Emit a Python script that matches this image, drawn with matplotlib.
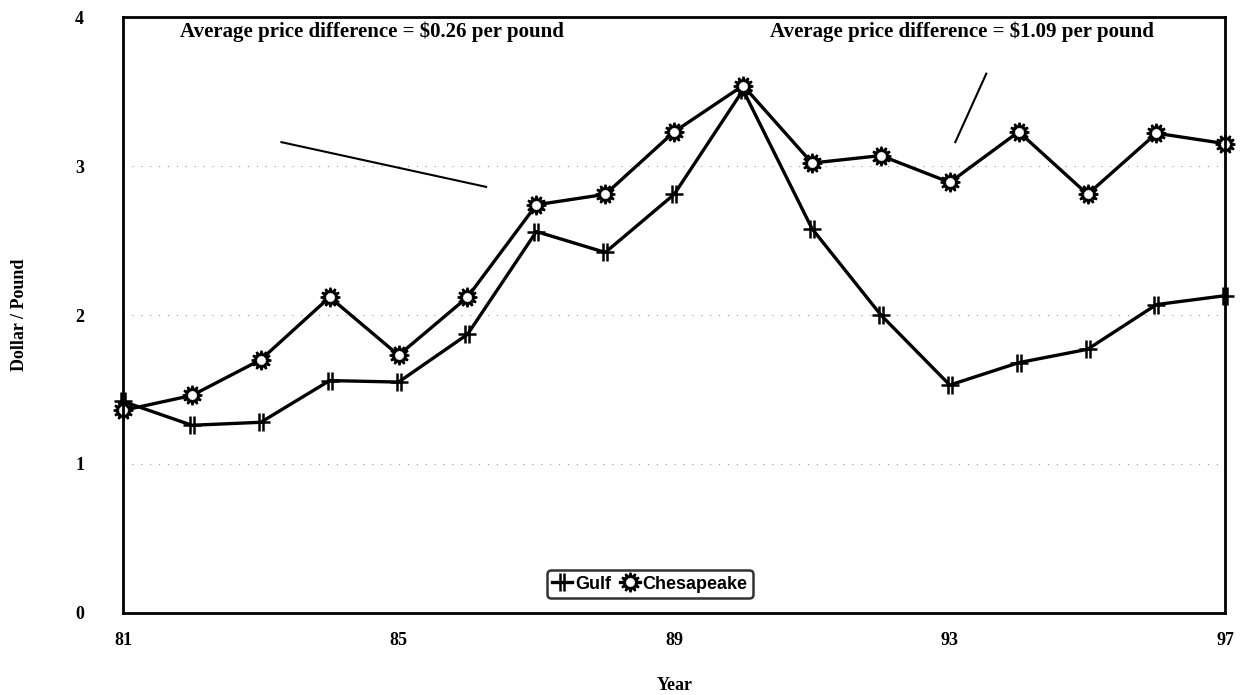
import matplotlib.pyplot as plt
from matplotlib.path import Path
import numpy as np

# data
years = [81, 82, 83, 84, 85, 86, 87, 88, 89, 90, 91, 92, 93, 94, 95, 96, 97]
gulf = [1.42, 1.26, 1.28, 1.56, 1.55, 1.87, 2.56, 2.42, 2.81, 3.51, 2.58, 2.00,
        1.53, 1.68, 1.77, 2.07, 2.13]
chesapeake = [1.36, 1.46, 1.70, 2.12, 1.73, 2.12, 2.74, 2.81, 3.23, 3.54, 3.02,
              3.07, 2.89, 3.23, 2.81, 3.22, 3.15]
xticks = [81, 85, 89, 93, 97]
yticks = [0, 1, 2, 3, 4]
note_left = "Average price difference = $0.26 per pound"
note_right = "Average price difference = $1.09 per pound"

plt.rcParams['font.family'] = 'Liberation Serif'
plt.rcParams['font.weight'] = 'bold'
plt.rcParams['axes.labelweight'] = 'bold'

# hash-like marker for Gulf
hash_marker = Path(
    [(-0.25, -1), (-0.25, 1), (0.25, -1), (0.25, 1), (-1, 0), (1, 0)],
    [Path.MOVETO, Path.LINETO, Path.MOVETO, Path.LINETO, Path.MOVETO, Path.LINETO])

fig = plt.figure(figsize=(12.4, 6.95), dpi=100)
ax = fig.add_axes([0.0992, 0.118, 0.889, 0.8575])

ax.plot(years, gulf, color='black', lw=2.4, marker=hash_marker, markersize=13,
        markeredgewidth=1.8, label='Gulf', clip_on=False)
ax.plot(years, chesapeake, color='black', lw=2.4, marker=(12, 1, 0), markersize=14,
        markerfacecolor='white', markeredgewidth=1.6, label='Chesapeake', clip_on=False)

ax.set_xlim(81, 97)
ax.set_ylim(0, 4)
ax.set_xticks(xticks)
ax.set_yticks(yticks)
ax.tick_params(length=0, labelsize=13)
ax.tick_params(axis='x', pad=14)
ax.tick_params(axis='y', pad=28)
for s in ax.spines.values():
    s.set_linewidth(2)

# faint dotted gridlines like the scan
for y in [1, 2, 3]:
    ax.axhline(y, color='0.6', lw=0.8, ls=(0, (1, 7)), zorder=0)

ax.set_xlabel('Year', fontsize=13, labelpad=20)
ax.set_ylabel('Dollar / Pound', fontsize=13)
ax.yaxis.set_label_coords(-0.086, 0.5)

ax.text(81.83, 3.9, note_left, fontsize=15, va='center', ha='left')
ax.plot([83.3, 86.27], [3.16, 2.86], color='black', lw=1.5)
ax.text(90.39, 3.9, note_right, fontsize=15, va='center', ha='left')
ax.plot([93.53, 93.08], [3.62, 3.16], color='black', lw=1.5)

leg = ax.legend(loc='lower center', ncol=2, frameon=True, fancybox=True,
                prop={'family': 'Liberation Sans', 'size': 13},
                handlelength=1.1, handletextpad=0.15, columnspacing=0.5,
                borderpad=0.3, bbox_to_anchor=(0.478, 0.01))
leg.get_frame().set_edgecolor('black')
leg.get_frame().set_linewidth(1.8)

fig.savefig('out.png', dpi=100)
